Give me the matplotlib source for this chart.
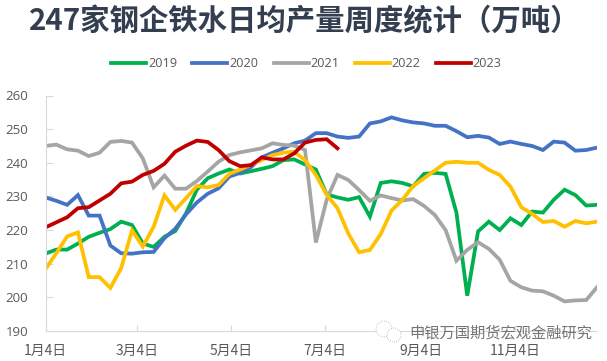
import pandas as pd
import matplotlib
matplotlib.use("Agg")
import matplotlib.pyplot as plt
from matplotlib.patches import Circle

plt.rcParams['font.family'] = ['Noto Sans CJK SC', 'DejaVu Sans']

# weekly values
y2019 = [213, 214.2, 214.2, 216, 218, 219.2, 220.3, 222.5, 221.5, 216, 215, 218, 219.7, 225, 232,
         235.4, 236.8, 238, 236.8, 237.5, 238.2, 239, 240.8, 241, 239.5, 238, 230.6, 229.7, 229,
         229.8, 224, 234, 234.5, 234, 233, 236.7, 237, 236.7, 225.2, 200.5, 219.6, 222.5, 220,
         223.5, 221.5, 225.5, 225.2, 229, 232, 230.4, 227.3, 227.5]
y2020 = [229.7, 228.7, 227.5, 230.4, 224.3, 224.3, 215.4, 213.1, 213, 213.4, 213.5, 217.6, 220.4,
         224.7, 228.2, 230.8, 232.4, 235.9, 237, 238.7, 241.6, 243, 244.3, 245.8, 246.6, 248.8,
         248.8, 247.8, 247.4, 247.8, 251.7, 252.3, 253.5, 252.6, 252, 251.7, 251, 251, 249.4,
         247.6, 248, 247.5, 245.6, 246.3, 245.6, 245, 243.8, 246.3, 246, 243.6, 243.8, 244.5]
y2021 = [245, 245.4, 244, 243.6, 242, 243, 246.2, 246.5, 246, 241.3, 232.7, 236.2, 232.3, 232.3,
         234.6, 237.4, 240.3, 242.3, 243.1, 243.7, 244.3, 245.8, 245.3, 245.1, 243.8, 216.3, 229,
         236.4, 234.9, 231.9, 228.7, 230.3, 229.5, 228.8, 229.2, 227.2, 224.5, 220, 210.9, 214.1,
         216.4, 214.4, 211.2, 204.9, 203, 202, 201.8, 200.5, 198.8, 199.1, 199.2, 203]
y2022 = [208.4, 213.1, 218.1, 219.3, 206, 206, 202.8, 208.7, 219.9, 215.1, 221, 230.3, 226, 229.5,
         233.1, 232.7, 233.4, 236.7, 238, 239.4, 240.8, 242.3, 243, 243.3, 240.8, 236.4, 230.5,
         226.5, 219, 213.4, 214.1, 218.8, 225.8, 229, 233.1, 235.4, 237.7, 240, 240.3, 240, 240,
         237.9, 236.4, 232.9, 226.8, 224.8, 222.4, 222.7, 221, 222.7, 222, 222.5]
y2023 = [220.8, 222.3, 223.8, 226.5, 226.8, 228.8, 230.8, 233.9, 234.4, 236.4, 237.6, 239.7, 243.3,
         245.1, 246.6, 246.2, 243.8, 240.5, 239, 239.3, 241.6, 241, 241, 242.8, 246, 246.8, 247, 244.3]

series = [("2019", y2019, "#00B050"), ("2020", y2020, "#4472C4"), ("2021", y2021, "#A5A5A5"),
          ("2022", y2022, "#FFC000"), ("2023", y2023, "#C00000")]
tick_days = ["2023-01-04", "2023-03-04", "2023-05-04", "2023-07-04", "2023-09-04", "2023-11-04"]
tick_labels = ["1月4日", "3月4日", "5月4日", "7月4日", "9月4日", "11月4日"]
weeks = pd.date_range("2023-01-04", periods=52, freq="7D")

W, H = 607, 361
fig = plt.figure(figsize=(W / 100, H / 100), dpi=100)
ax = fig.add_axes([45.5 / W, 1 - 331 / H, 551.5 / W, 235.5 / H])

for name, vals, col in series:
    ax.plot(weeks[:len(vals)], vals, color=col, lw=2.7, label=name, solid_joinstyle='miter')

ax.set_xlim(weeks[0], weeks[-1])
ax.set_ylim(190, 260)
ax.set_yticks(range(190, 261, 10))
ax.set_xticks(pd.to_datetime(tick_days))
ax.set_xticklabels(tick_labels, fontsize=10, color="#595959")
ax.tick_params(axis='y', labelsize=9.5, labelcolor="#595959", direction='in', length=5,
               color="#D9D9D9", pad=12.5)
ax.tick_params(axis='x', direction='in', length=4, color="#D9D9D9", pad=9)
for lab in ax.get_yticklabels():
    lab.set_family(['Open Sans', 'DejaVu Sans'])
for s in ['top', 'right']:
    ax.spines[s].set_visible(False)
for s in ['left', 'bottom']:
    ax.spines[s].set_color("#D9D9D9")

fig.text(29 / W, 1 - 21 / H, "247家钢企铁水日均产量周度统计（万吨）", fontsize=21.2, weight='bold',
         color="#333F50", va='center', ha='left')

leg = fig.legend(loc='center', bbox_to_anchor=(306.5 / W, 1 - 63.5 / H), ncol=5, frameon=False,
                 fontsize=9.1, handlelength=2.77, handletextpad=0.16, columnspacing=1.19)
for t in leg.get_texts():
    t.set_color("#595959")
    t.set_family(['Open Sans', 'DejaVu Sans'])

# watermark
fig.text(409 / W, 1 - 333 / H, "申银万国期货宏观金融研究", fontsize=11, color="#666666",
         va='center', ha='left', alpha=0.9)
for cx, cy, r in [(384, 329, 8), (394, 335, 7)]:
    fig.add_artist(Circle((cx, H - cy), r, transform=None, fc="white",
                          ec="#AAAAAA", lw=0.6, ls=':'))

fig.savefig("out.png", dpi=100)
